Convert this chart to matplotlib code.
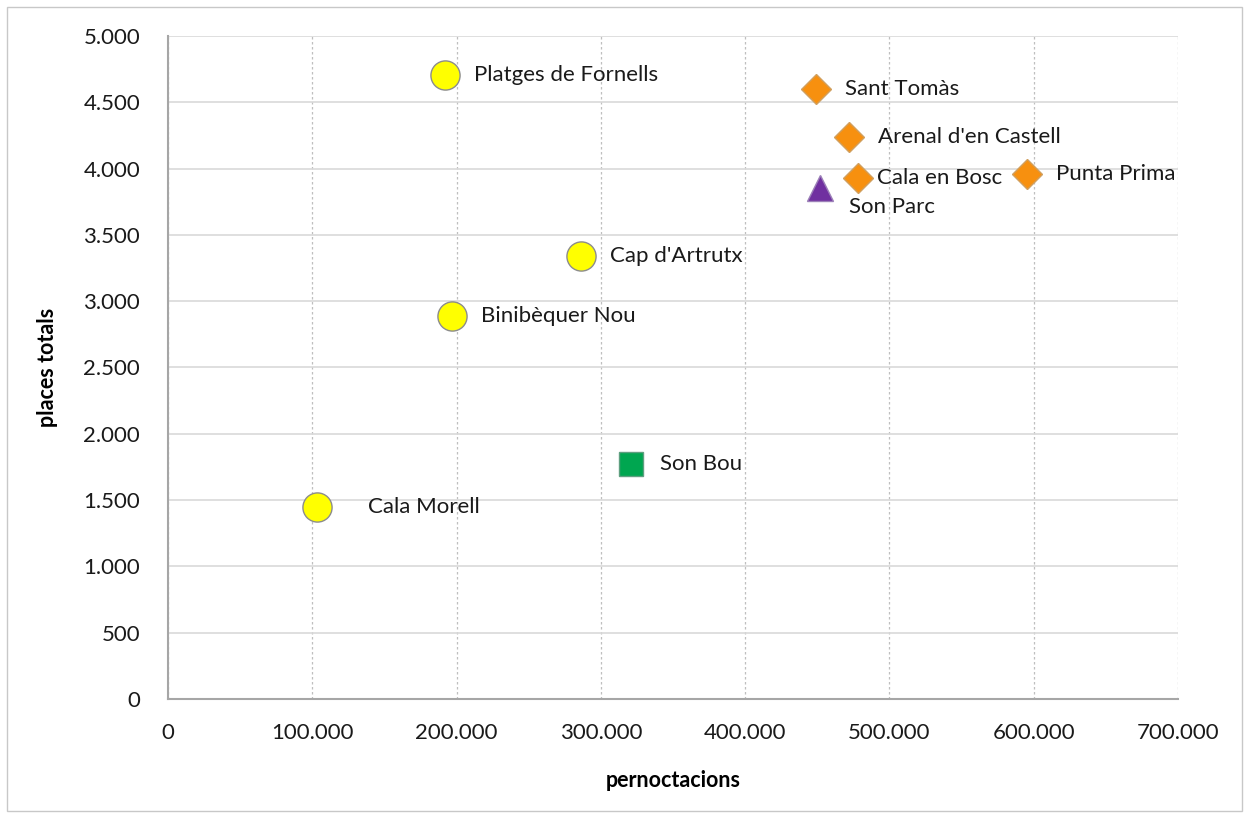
import matplotlib
matplotlib.use("Agg")
import matplotlib.pyplot as plt
from matplotlib.ticker import FuncFormatter, MultipleLocator
from matplotlib.patches import Rectangle

plt.rcParams["font.family"] = ["Lato", "DejaVu Sans"]

# data
names = ["Platges de Fornells", "Sant Tomàs", "Arenal d'en Castell", "Cala en Bosc",
         "Punta Prima", "Son Parc", "Cap d'Artrutx", "Binibèquer Nou", "Son Bou",
         "Cala Morell"]
pernoctacions = [192000, 449000, 472000, 478000, 595000, 452000, 286000, 197000, 321000, 103000]
places = [4705, 4600, 4240, 3930, 3960, 3850, 3340, 2890, 1770, 1445]
groups = ["circle", "diamond", "diamond", "diamond", "diamond", "triangle",
          "circle", "circle", "square", "circle"]

styles = {
    "circle": dict(marker="o", ms=21, mfc="#FFFF00", mec="#8c8c8c"),
    "diamond": dict(marker="D", ms=15, mfc="#F7900F", mec="#d0a060"),
    "triangle": dict(marker="^", ms=19, mfc="#7030A0", mec="#9c80b8"),
    "square": dict(marker="s", ms=17, mfc="#00A650", mec="#5f9f80"),
}
# label offsets in points (dx, dy)
offsets = {"Cala en Bosc": (14, 0), "Son Parc": (21, -13), "Cala Morell": (37, 0)}


def fmt(v, pos):
    return f"{int(v):,}".replace(",", ".")


fig = plt.figure(figsize=(12.49, 8.16), dpi=100)
ax = fig.add_axes([0.1345, 0.1434, 0.8087, 0.8125])

for name, x, y, g in zip(names, pernoctacions, places, groups):
    ax.plot([x], [y], ls="none", mew=1, zorder=3, **styles[g])
    dx, dy = offsets.get(name, (21, 0))
    ax.annotate(name, (x, y), xytext=(dx, dy), textcoords="offset points",
                va="center", ha="left", fontsize=16, color="#1a1a1a")

ax.set_xlim(0, 700000)
ax.set_ylim(0, 5000)
ax.xaxis.set_major_locator(MultipleLocator(100000))
ax.yaxis.set_major_locator(MultipleLocator(500))
ax.xaxis.set_major_formatter(FuncFormatter(fmt))
ax.yaxis.set_major_formatter(FuncFormatter(fmt))

ax.grid(axis="y", color="#d9d9d9", lw=1.2)
ax.grid(axis="x", color="#bfbfbf", lw=0.9, ls=(0, (2, 2)))
ax.set_axisbelow(True)
for s in ["top", "right"]:
    ax.spines[s].set_visible(False)
for s in ["left", "bottom"]:
    ax.spines[s].set_color("#a6a6a6")
    ax.spines[s].set_linewidth(1.5)

ax.tick_params(length=0, labelsize=16, colors="#1a1a1a")
ax.tick_params(axis="y", pad=20)
ax.tick_params(axis="x", pad=17)

ax.set_xlabel("pernoctacions", fontsize=15.5, fontweight="bold", labelpad=20)
ax.set_ylabel("places totals", fontsize=15.5, fontweight="bold", labelpad=18)

fig.patches.append(Rectangle((0.006, 0.006), 0.988, 0.985, transform=fig.transFigure,
                             fill=False, ec="#c8c8c8", lw=1))

fig.savefig("out.png", dpi=100)
